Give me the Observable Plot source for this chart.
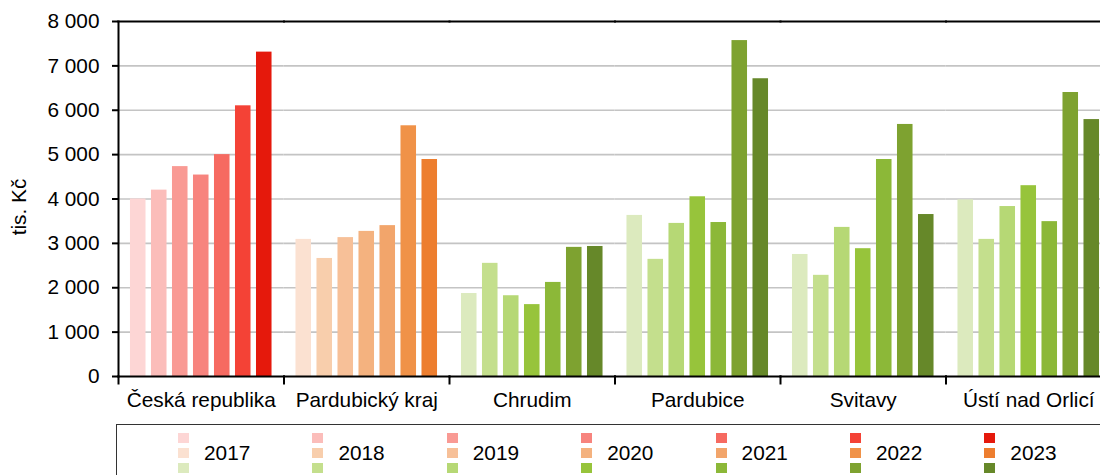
<!DOCTYPE html>
<html>
<head>
<meta charset="utf-8">
<script src="https://cdn.jsdelivr.net/npm/d3@7"></script>
<script src="https://cdn.jsdelivr.net/npm/@observablehq/plot@0.6"></script>
<style>
  html, body { margin: 0; padding: 0; background: #fff; overflow: hidden; width: 1100px; height: 475px; }
  #wrap { position: relative; width: 1100px; height: 475px; overflow: hidden;
          font-family: "Liberation Sans", Arial, sans-serif; color: #000; }
  #chart svg { max-width: none !important; display: block; }
  #legend { position: absolute; left: 116px; top: 424px; width: 1010px; height: 80px;
            border: 1px solid #333; box-sizing: border-box; padding: 7.5px 0 0 61px;
            display: flex; flex-direction: row; }
  .item { width: 134.4px; flex: none; display: flex; flex-direction: row; align-items: center; height: 41px; }
  .sw { display: flex; flex-direction: column; gap: 4.7px; }
  .sw div { width: 11px; height: 10.5px; }
  .lab { margin-left: 15px; font-size: 20.8px; line-height: 1; }
</style>
</head>
<body>
<div id="wrap">
  <div id="chart"></div>
  <div id="legend"></div>
</div>
<script>
// ---- data ----
const categories = ["Česká republika", "Pardubický kraj", "Chrudim", "Pardubice", "Svitavy", "Ústí nad Orlicí"];
const years = ["2017", "2018", "2019", "2020", "2021", "2022", "2023"];
const ceskaRepublika = [4000, 4200, 4730, 4540, 5000, 6100, 7310];
const pardubickyKraj = [3090, 2660, 3130, 3270, 3400, 5650, 4890];
const chrudim        = [1870, 2550, 1820, 1620, 2120, 2910, 2930];
const pardubice      = [3630, 2640, 3450, 4050, 3470, 7570, 6710];
const svitavy        = [2750, 2280, 3360, 2880, 4890, 5680, 3650];
const ustiNadOrlici  = [3980, 3090, 3830, 4300, 3490, 6400, 5790];
const yTicks = [0, 1000, 2000, 3000, 4000, 5000, 6000, 7000, 8000];
const yLabel = "tis. Kč";

// ---- colours ----
const redColors    = ["#FDD6D5", "#FBBDBA", "#F99A94", "#F7847E", "#F66A61", "#F44236", "#E5190C"];
const orangeColors = ["#FBE1D1", "#F8CEAC", "#F7C098", "#F4B27F", "#F2A56B", "#F09248", "#ED7E2F"];
const greenColors  = ["#DCEABE", "#C4DF8D", "#B6D875", "#97C43B", "#8CB838", "#7EA230", "#668829"];

const seriesValues = [ceskaRepublika, pardubickyKraj, chrudim, pardubice, svitavy, ustiNadOrlici];
const palettes = [redColors, orangeColors, greenColors, greenColors, greenColors, greenColors];

const rows = [];
categories.forEach((c, ci) => seriesValues[ci].forEach((v, yi) =>
  rows.push({category: c, year: years[yi], value: v, color: palettes[ci][yi]})));

const loc = d3.formatLocale({decimal: ",", thousands: "\u00a0", grouping: [3], currency: ["", " Kč"]});
const fmt = loc.format(",");

const W = 1111, H = 420, mTop = 21, mBottom = 44;
const plotH = H - mTop - mBottom;
const font = "20.8px";

const chart = Plot.plot({
  width: W, height: H,
  marginLeft: 118, marginRight: 0, marginTop: mTop, marginBottom: mBottom,
  style: {fontFamily: "'Liberation Sans', Arial, sans-serif", fontSize: font, color: "#000", background: "transparent"},
  fx: {domain: categories, padding: 0, round: false, label: null},
  x: {domain: years, paddingInner: 0.26, paddingOuter: 0.57, round: false, axis: null},
  y: {domain: [0, 8000]},
  color: {type: "identity"},
  marks: [
    Plot.gridY({ticks: yTicks.filter(t => t > 0 && t < 8000), stroke: "#c4c4c4", strokeOpacity: 1, strokeWidth: 1.6}),
    Plot.barY(rows, {fx: "category", x: "year", y: "value", fill: "color"}),
    Plot.frame({anchor: "top", stroke: "#000", strokeWidth: 2}),
    Plot.frame({anchor: "bottom", stroke: "#000", strokeWidth: 2}),
    Plot.frame({anchor: "left", stroke: "#000", strokeWidth: 2, facetAnchor: "left"}),
    Plot.frame({anchor: "left", stroke: "#000", strokeWidth: 2, insetTop: plotH, insetBottom: -7}),
    Plot.axisY({ticks: yTicks, tickSize: 6, tickPadding: 13, tickFormat: fmt, label: null, stroke: "#000", strokeWidth: 2}),
    Plot.axisFx({anchor: "bottom", tickSize: 0, tickPadding: 16, label: null}),
    Plot.text([yLabel], {frameAnchor: "left", textAnchor: "middle", lineAnchor: "middle", rotate: -90, dx: -99, dy: 8, facetAnchor: "left", fontSize: 20.8})
  ]
});
document.getElementById("chart").appendChild(chart);

// ---- legend ----
const legend = document.getElementById("legend");
years.forEach((yr, i) => {
  const item = document.createElement("div");
  item.className = "item";
  const sw = document.createElement("div");
  sw.className = "sw";
  [redColors, orangeColors, greenColors].forEach(p => {
    const s = document.createElement("div");
    s.style.background = p[i];
    sw.appendChild(s);
  });
  const lab = document.createElement("div");
  lab.className = "lab";
  lab.textContent = yr;
  item.appendChild(sw);
  item.appendChild(lab);
  legend.appendChild(item);
});
</script>
</body>
</html>
